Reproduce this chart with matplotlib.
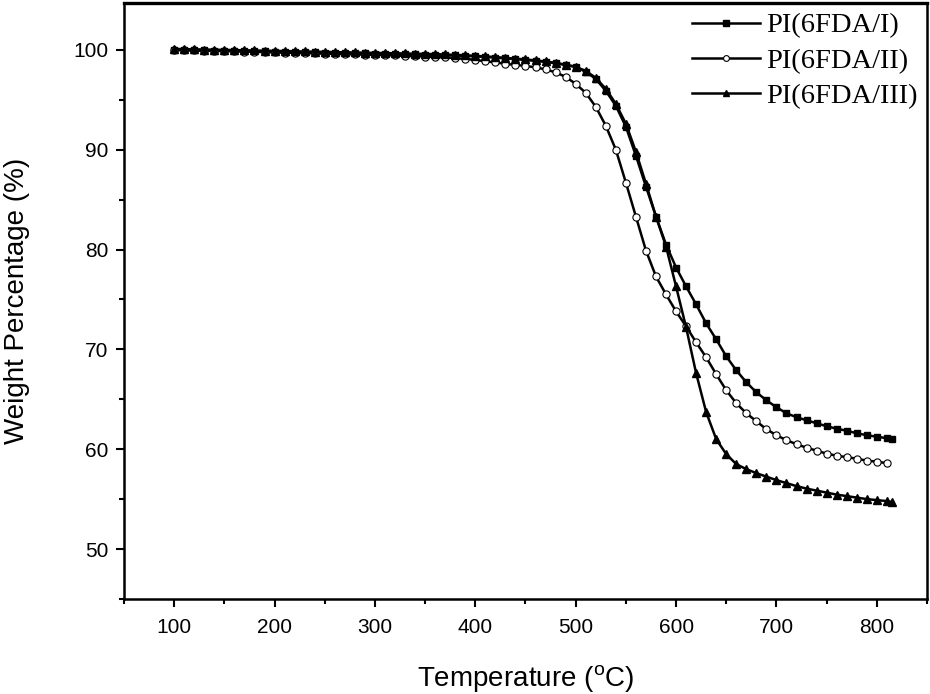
import numpy as np
import matplotlib
matplotlib.use("Agg")
import matplotlib.pyplot as plt
from matplotlib.ticker import MultipleLocator

plt.rcParams['font.family'] = ['Liberation Sans', 'DejaVu Sans']
plt.rcParams['mathtext.fontset'] = 'custom'
plt.rcParams['mathtext.rm'] = 'Liberation Sans'

# temperatures (C), one point every 10 degrees
temp_I = list(range(100, 820, 10)) + [815]
temp_II = list(range(100, 820, 10))
temp_III = list(range(100, 820, 10)) + [815]

weight_I = [100.0, 99.98, 99.96, 99.95, 99.93, 99.92, 99.9, 99.88, 99.86, 99.85, 99.83,
            99.8, 99.78, 99.76, 99.74, 99.72, 99.7, 99.68, 99.66, 99.64, 99.62,
            99.6, 99.58, 99.56, 99.54, 99.52, 99.5, 99.47, 99.44, 99.4, 99.35,
            99.3, 99.22, 99.15, 99.08, 99.0, 98.9, 98.8, 98.65, 98.5, 98.3,
            97.8, 97.1, 95.9, 94.4, 92.3, 89.4, 86.3, 83.3, 80.5, 78.2,
            76.3, 74.5, 72.6, 71.0, 69.3, 67.9, 66.7, 65.7, 64.9, 64.2,
            63.6, 63.2, 62.9, 62.6, 62.3, 62.05, 61.85, 61.6, 61.4, 61.25,
            61.1, 61.0]
weight_II = [100.0, 99.97, 99.94, 99.92, 99.9, 99.88, 99.86, 99.83, 99.8, 99.78, 99.75,
             99.72, 99.7, 99.67, 99.65, 99.62, 99.6, 99.57, 99.55, 99.52, 99.5,
             99.47, 99.44, 99.4, 99.37, 99.33, 99.29, 99.24, 99.18, 99.1, 99.0,
             98.85, 98.75, 98.6, 98.5, 98.4, 98.25, 98.05, 97.75, 97.3, 96.6,
             95.7, 94.3, 92.4, 90.0, 86.7, 83.3, 79.9, 77.3, 75.5, 73.8,
             72.3, 70.7, 69.2, 67.5, 65.9, 64.6, 63.6, 62.8, 62.0, 61.4,
             60.9, 60.5, 60.15, 59.85, 59.55, 59.35, 59.2, 59.05, 58.85, 58.75,
             58.6]
weight_III = [100.1, 100.08, 100.06, 100.04, 100.02, 100.0, 99.98, 99.96, 99.94, 99.92, 99.9,
              99.88, 99.86, 99.84, 99.82, 99.8, 99.78, 99.76, 99.74, 99.72, 99.7,
              99.68, 99.66, 99.64, 99.62, 99.6, 99.57, 99.54, 99.5, 99.46, 99.4,
              99.35, 99.28, 99.2, 99.12, 99.04, 98.95, 98.84, 98.7, 98.52, 98.3,
              97.9, 97.2, 96.1, 94.6, 92.6, 89.8, 86.6, 83.3, 80.3, 76.3,
              72.2, 67.6, 63.7, 61.0, 59.5, 58.5, 58.0, 57.6, 57.25, 56.9,
              56.6, 56.3, 56.05, 55.85, 55.65, 55.45, 55.3, 55.15, 55.0, 54.9,
              54.8, 54.7]

labels = ["PI(6FDA/I)", "PI(6FDA/II)", "PI(6FDA/III)"]

fig = plt.figure(figsize=(9.3, 6.94), dpi=100)
ax = fig.add_axes([0.1333, 0.137, 0.8635, 0.8587])

ax.plot(temp_I, weight_I, '-s', color='black', lw=1.8, ms=4.8, mfc='black', label=labels[0])
ax.plot(temp_II, weight_II, '-o', color='black', lw=1.8, ms=5.2, mfc='white', mew=0.8, label=labels[1])
ax.plot(temp_III, weight_III, '-^', color='black', lw=1.8, ms=5.8, mfc='black', label=labels[2])

ax.set_xlim(50, 850)
ax.set_ylim(45, 104.7)
ax.xaxis.set_minor_locator(MultipleLocator(50))
ax.yaxis.set_minor_locator(MultipleLocator(5))
ax.set_yticks([50, 60, 70, 80, 90, 100])
ax.set_xticks([100, 200, 300, 400, 500, 600, 700, 800])

for s in ax.spines.values():
    s.set_linewidth(1.8)
ax.spines['top'].set_linewidth(2.4)
ax.tick_params(which='major', direction='out', length=6, width=1.5, labelsize=15)
ax.tick_params(which='minor', direction='out', length=3.5, width=1.5)
ax.tick_params(top=False, right=False, which='both')
ax.tick_params(axis='x', pad=8)
ax.tick_params(axis='y', pad=5)

ax.set_xlabel(r'Temperature ($^{\mathrm{o}}$C)', fontsize=20)
ax.set_ylabel('Weight Percentage (%)', fontsize=20)
ax.xaxis.set_label_coords(0.5, -0.108)
ax.yaxis.set_label_coords(-0.117, 0.5)

ax.legend(loc='upper right', frameon=False, handlelength=2.4, handletextpad=0.2,
          labelspacing=0.33, markerscale=0.8, borderaxespad=0.0,
          bbox_to_anchor=(1.002, 1.003),
          prop={'family': 'Liberation Serif', 'size': 20.5})

fig.savefig("out.png", dpi=100)
